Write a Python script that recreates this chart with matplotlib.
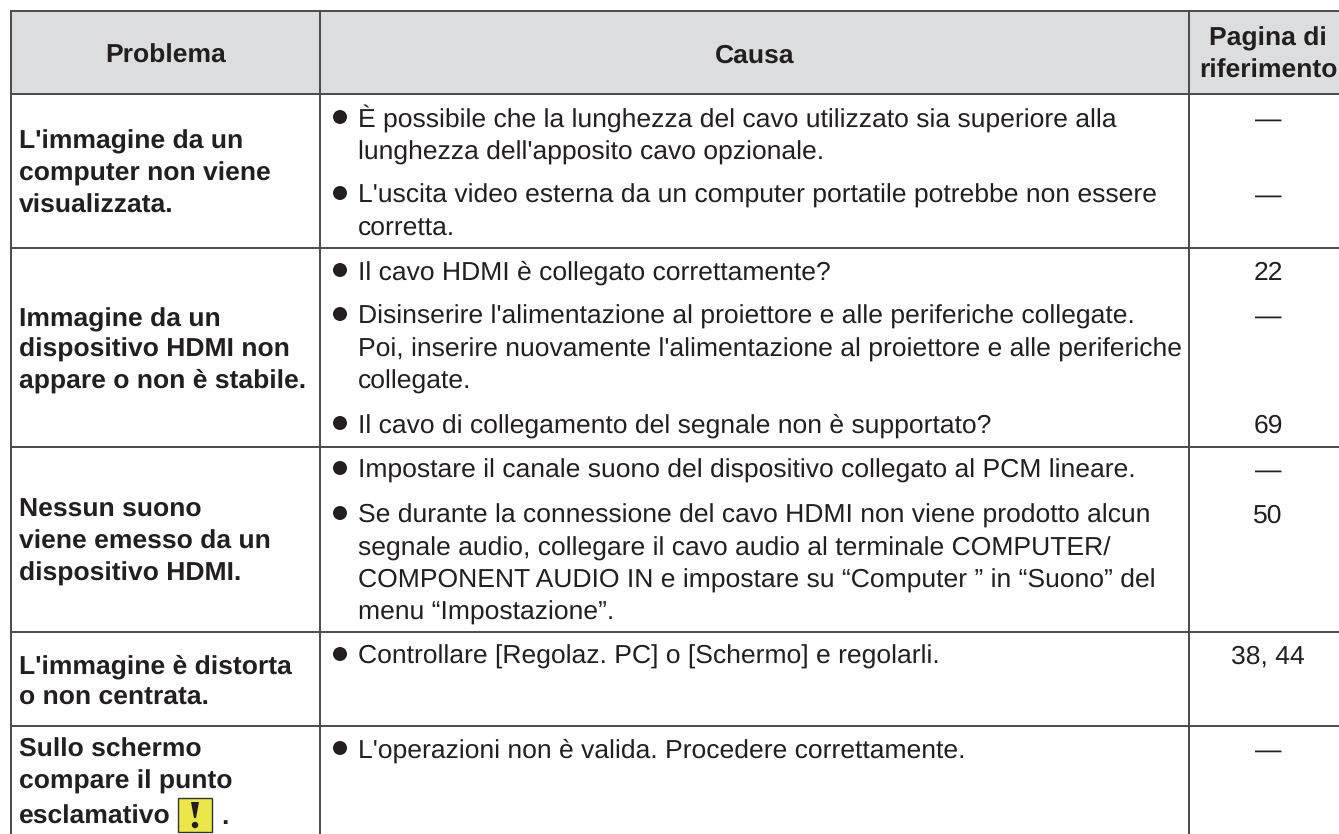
import matplotlib
matplotlib.use("Agg")
import matplotlib.pyplot as plt
from matplotlib.patches import Rectangle, Circle, Polygon

plt.rcParams['font.family'] = ['Liberation Sans', 'DejaVu Sans']
plt.rcParams['text.hinting'] = 'no_hinting'
plt.rcParams['text.hinting_factor'] = 8

headers = ["Problema", "Causa"]
header_page = ["Pagina di", "riferimento"]

problems = [
    ["L'immagine da un", "computer non viene", "visualizzata."],
    ["Immagine da un", "dispositivo HDMI non", "appare o non è stabile."],
    ["Nessun suono", "viene emesso da un", "dispositivo HDMI."],
    ["L'immagine è distorta", "o non centrata."],
    ["Sullo schermo", "compare il punto", "esclamativo"],
]
# linee di base del testo, in pixel
problem_y = [
    [148, 181, 213],
    [326, 357, 388],
    [517, 549, 581],
    [673, 705],
    [757, 789, 824],
]

causes = [
    ["È possibile che la lunghezza del cavo utilizzato sia superiore alla", "lunghezza dell'apposito cavo opzionale."],
    ["L'uscita video esterna da un computer portatile potrebbe non essere", "corretta."],
    ["Il cavo HDMI è collegato correttamente?"],
    ["Disinserire l'alimentazione al proiettore e alle periferiche collegate.", "Poi, inserire nuovamente l'alimentazione al proiettore e alle periferiche", "collegate."],
    ["Il cavo di collegamento del segnale non è supportato?"],
    ["Impostare il canale suono del dispositivo collegato al PCM lineare."],
    ["Se durante la connessione del cavo HDMI non viene prodotto alcun", "segnale audio, collegare il cavo audio al terminale COMPUTER/", "COMPONENT AUDIO IN e impostare su “Computer ” in “Suono” del", "menu “Impostazione”."],
    ["Controllare [Regolaz. PC] o [Schermo] e regolarli."],
    ["L'operazioni non è valida. Procedere correttamente."],
]
cause_y = [127, 203, 280, 324, 433, 478, 523, 664, 758]
pages = ["—", "—", "22", "—", "69", "—", "50", "38, 44", "—"]

row_lines = [94, 248, 447, 632, 726]
col_lines = [11, 320, 1189]
top = 11
right = 1339
bottom = 834

text_col = "#231f20"
line_col = "#4a4a4a"
fs = 19.05
lh = 32.3

fig = plt.figure(figsize=(13.39, 8.34), dpi=100)
ax = fig.add_axes([0, 0, 1, 1])
ax.set_xlim(0, 1339)
ax.set_ylim(834, 0)
ax.axis("off")

ax.add_patch(Rectangle((11, top), right - 11, row_lines[0] - top, fc="#dcddde", ec="none"))
ax.plot([11, right], [top, top], color=line_col, lw=1.4)
for y in row_lines:
    ax.plot([11, right], [y, y], color=line_col, lw=1.4)
for x in col_lines:
    ax.plot([x, x], [top, bottom], color=line_col, lw=1.4)

ax.text(166, 63, headers[0], ha="center", va="baseline", fontsize=fs, fontweight="bold", color=text_col)
ax.text(755, 63, headers[1], ha="center", va="baseline", fontsize=fs, fontweight="bold", color=text_col)
for t, y in zip(header_page, [45, 78]):
    ax.text(1268, y, t, ha="center", va="baseline", fontsize=fs, fontweight="bold", color=text_col)

for lines, ys in zip(problems, problem_y):
    for t, y in zip(lines, ys):
        ax.text(19, y, t, ha="left", va="baseline", fontsize=fs, fontweight="bold", color=text_col)

# icona del punto esclamativo
ax.add_patch(Rectangle((178, 798), 34, 34, fc="#ebe64a", ec="#333333", lw=1))
ax.add_patch(Polygon([(191, 802), (199, 802), (196, 818), (194, 818)], fc=text_col, ec="none"))
ax.add_patch(Circle((195, 825), 3.2, fc=text_col, ec="none"))
ax.text(225, 824, ".", ha="center", va="baseline", fontsize=fs, fontweight="bold", color=text_col)

for lines, y0, p in zip(causes, cause_y, pages):
    ax.add_patch(Circle((340, y0 - 10), 7, fc=text_col, ec="none"))
    for i, t in enumerate(lines):
        ax.text(358, y0 + i * lh, t, ha="left", va="baseline", fontsize=fs, color=text_col)
    ax.text(1268, y0, p, ha="center", va="baseline", fontsize=fs, color=text_col)

fig.savefig("out.png", dpi=100)
